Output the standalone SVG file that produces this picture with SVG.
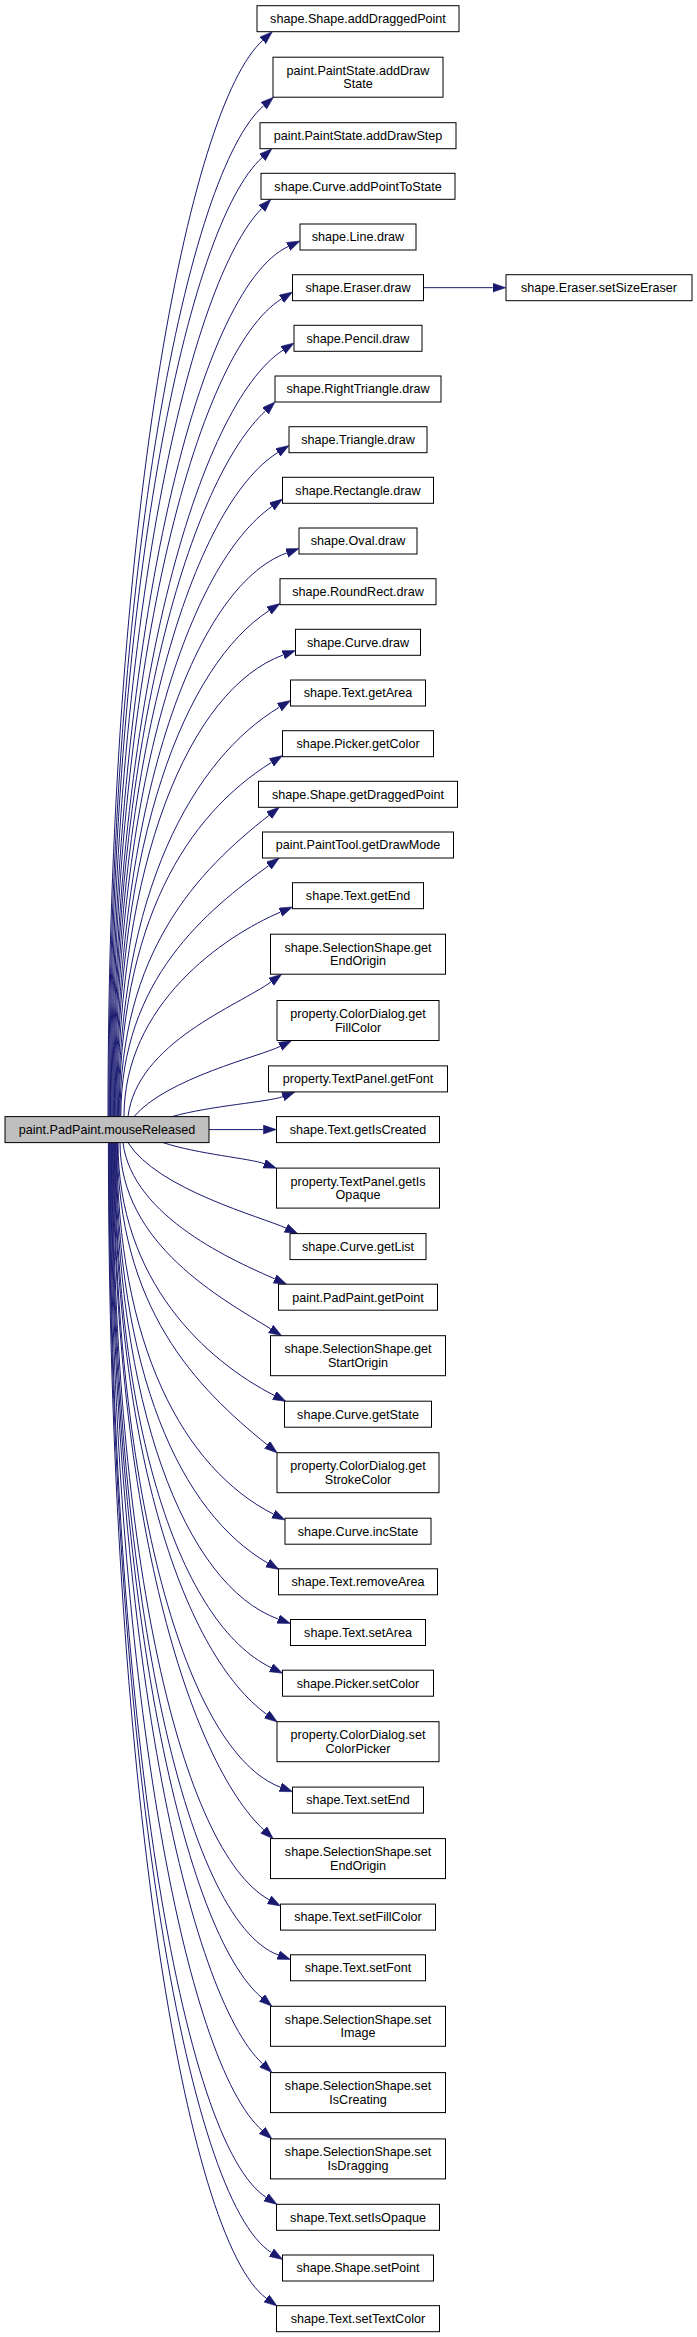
<svg xmlns="http://www.w3.org/2000/svg" width="697" height="2337" viewBox="0 0 697 2337">
<style>
.n rect{fill:#fff;stroke:#000;stroke-width:1}
.m rect{fill:#bfbfbf;stroke:#000;stroke-width:1}
text{font-family:"Liberation Sans",Arial,sans-serif;font-size:12.6px;fill:#000;text-anchor:middle}
.e path{fill:none;stroke:#191970;stroke-width:1;marker-end:url(#a)}
</style>
<defs>
<marker id="a" markerUnits="userSpaceOnUse" markerWidth="14" markerHeight="10" refX="0" refY="4.5" orient="auto" viewBox="0 0 14 10"><path d="M0,0 L13,4.5 L0,9 z" fill="#191970" stroke="#191970" stroke-width="0.5"/></marker>
</defs>
<rect width="697" height="2337" fill="#fff"/>
<g class="e" id="edges">
<path d="M108,1116.6 C108,524.7 188.4,107.3 262.7,40.4"/>
<path d="M108.8,1116.6 C108.8,560.6 188.2,171.3 263.7,105.7"/>
<path d="M109.6,1116.6 C109.6,589 188,224.3 262.3,157.4"/>
<path d="M110.4,1116.6 C110.4,617.1 191.1,279.2 261.8,208.5"/>
<path d="M111.2,1116.6 C111.2,638 197.6,288.8 288.2,246.5"/>
<path d="M112,1116.6 C112,666.9 196.7,351.9 281.5,298.9"/>
<path d="M112.8,1116.6 C112.8,695 199.2,404.6 283.1,350.1"/>
<path d="M113.6,1116.6 C113.6,728.5 192.4,479.1 265.5,410.9"/>
<path d="M114.4,1116.6 C114.4,751.3 193.2,505.4 278,452.4"/>
<path d="M115.2,1116.6 C115.2,781 190,563.9 271.9,506.5"/>
<path d="M116,1116.6 C116,806.6 192.8,587.1 286.8,552.9"/>
<path d="M116.8,1116.6 C116.8,838.3 185.2,665.1 269.1,610.6"/>
<path d="M117.6,1116.6 C117.6,862.7 189.3,689.1 283.3,654.9"/>
<path d="M118.4,1116.6 C118.4,891.4 193.7,758.7 279.4,707.2"/>
<path d="M119.2,1116.6 C119.2,921.8 186.7,815.4 271.5,762.4"/>
<path d="M120,1116.6 C120,950.9 197.9,871 269.1,815.3"/>
<path d="M120.8,1116.6 C120.8,978.6 207.9,909.9 268.8,865.6"/>
<path d="M124,1116.6 C124,1004.1 224,936.1 280.5,912.1"/>
<path d="M128,1116.6 C137,1042.5 238.5,1005.6 271.2,981.8"/>
<path d="M134,1116.6 C166.7,1078 261.3,1056 280.1,1046.4"/>
<path d="M172,1116.6 C210.8,1105.6 268.9,1102 282.9,1096.6"/>
<path d="M209,1129.6 L263.4,1129.6"/>
<path d="M163,1142.6 C198.2,1154.2 250.2,1158.4 264.3,1163.7"/>
<path d="M128,1142.6 C157.4,1189.6 262.7,1217.2 286,1228.1"/>
<path d="M123,1142.6 C132.1,1217.6 237.4,1262.3 274.8,1278.9"/>
<path d="M120,1142.6 C120,1245.1 223.3,1299.3 270.7,1328.9"/>
<path d="M118,1142.6 C118,1281.7 206.8,1361 274.4,1395.5"/>
<path d="M117.4,1142.6 C117.4,1308.8 196.7,1387.7 267.2,1444.8"/>
<path d="M116.8,1142.6 C116.8,1346.9 184.3,1468.7 273.4,1514.1"/>
<path d="M116.2,1142.6 C116.2,1373.8 181.1,1513 267.7,1563"/>
<path d="M115.6,1142.6 C115.6,1404.7 184.3,1584.9 278.3,1619.1"/>
<path d="M115,1142.6 C115,1431.4 181.1,1623.8 271,1667.6"/>
<path d="M114.4,1142.6 C114.4,1457.1 185.9,1655.6 266.8,1714.4"/>
<path d="M113.8,1142.6 C113.8,1497.1 186.8,1752.2 280.5,1787.2"/>
<path d="M113.2,1142.6 C113.2,1520.6 190.7,1761.7 263.8,1829.9"/>
<path d="M112.6,1142.6 C112.6,1559 181.6,1851.2 269.1,1899.7"/>
<path d="M112,1142.6 C112,1589.4 184.6,1920 278.3,1955"/>
<path d="M111.4,1142.6 C111.4,1613 185.4,1933.6 262,1997.9"/>
<path d="M110.8,1142.6 C110.8,1649.2 189.4,1995.5 262.5,2063.7"/>
<path d="M110.2,1142.6 C110.2,1685.9 186.7,2064.8 262.2,2130.4"/>
<path d="M109.6,1142.6 C109.6,1722.7 182.2,2142.8 266.1,2197.3"/>
<path d="M109,1142.6 C109,1753.1 186.7,2199.6 271.5,2252.6"/>
<path d="M108.4,1142.6 C108.4,1778.3 185.6,2239.6 266.5,2298.4"/>
<path d="M423.5,287.67 L492.8,287.67"/>
</g>
<g class="m" id="n_main"><rect x="5" y="1116.6" width="204" height="26"/><text x="107" y="1133.9">paint.PadPaint.mouseReleased</text></g>
<g class="n" id="n1"><rect x="257" y="5.7" width="202" height="26"/><text x="358" y="23">shape.Shape.addDraggedPoint</text></g>
<g class="n" id="n2"><rect x="273" y="57.2" width="170" height="40"/><text x="358" y="74.7">paint.PaintState.addDraw</text><text x="358" y="88.2">State</text></g>
<g class="n" id="n3"><rect x="260" y="122.7" width="196" height="26"/><text x="358" y="140">paint.PaintState.addDrawStep</text></g>
<g class="n" id="n4"><rect x="261" y="173.3" width="194" height="26"/><text x="358" y="190.6">shape.Curve.addPointToState</text></g>
<g class="n" id="n5"><rect x="300" y="224" width="116" height="26"/><text x="358" y="241.3">shape.Line.draw</text></g>
<g class="n" id="n6"><rect x="292.5" y="274.7" width="131" height="26"/><text x="358" y="292">shape.Eraser.draw</text></g>
<g class="n" id="n6b"><rect x="506" y="274.7" width="186" height="26"/><text x="599" y="292">shape.Eraser.setSizeEraser</text></g>
<g class="n" id="n7"><rect x="294" y="325.3" width="128" height="26"/><text x="358" y="342.6">shape.Pencil.draw</text></g>
<g class="n" id="n8"><rect x="275" y="376" width="166" height="26"/><text x="358" y="393.3">shape.RightTriangle.draw</text></g>
<g class="n" id="n9"><rect x="289" y="426.7" width="138" height="26"/><text x="358" y="444">shape.Triangle.draw</text></g>
<g class="n" id="n10"><rect x="282.5" y="477.3" width="151" height="26"/><text x="358" y="494.6">shape.Rectangle.draw</text></g>
<g class="n" id="n11"><rect x="299" y="528" width="118" height="26"/><text x="358" y="545.3">shape.Oval.draw</text></g>
<g class="n" id="n12"><rect x="280" y="578.7" width="156" height="26"/><text x="358" y="596">shape.RoundRect.draw</text></g>
<g class="n" id="n13"><rect x="295.5" y="629.3" width="125" height="26"/><text x="358" y="646.6">shape.Curve.draw</text></g>
<g class="n" id="n14"><rect x="290.5" y="680" width="135" height="26"/><text x="358" y="697.3">shape.Text.getArea</text></g>
<g class="n" id="n15"><rect x="282.5" y="730.7" width="151" height="26"/><text x="358" y="748">shape.Picker.getColor</text></g>
<g class="n" id="n16"><rect x="258.5" y="781.3" width="199" height="26"/><text x="358" y="798.6">shape.Shape.getDraggedPoint</text></g>
<g class="n" id="n17"><rect x="262.5" y="832" width="191" height="26"/><text x="358" y="849.3">paint.PaintTool.getDrawMode</text></g>
<g class="n" id="n18"><rect x="292.5" y="882.7" width="131" height="26"/><text x="358" y="900">shape.Text.getEnd</text></g>
<g class="n" id="n19"><rect x="270.5" y="934.2" width="175" height="40"/><text x="358" y="951.7">shape.SelectionShape.get</text><text x="358" y="965.2">EndOrigin</text></g>
<g class="n" id="n20"><rect x="277" y="1000.5" width="162" height="40"/><text x="358" y="1018">property.ColorDialog.get</text><text x="358" y="1031.5">FillColor</text></g>
<g class="n" id="n21"><rect x="268.5" y="1065.9" width="179" height="26"/><text x="358" y="1083.2">property.TextPanel.getFont</text></g>
<g class="n" id="n22"><rect x="276.5" y="1116.6" width="163" height="26"/><text x="358" y="1133.9">shape.Text.getIsCreated</text></g>
<g class="n" id="n23"><rect x="276.5" y="1168.1" width="163" height="40"/><text x="358" y="1185.6">property.TextPanel.getIs</text><text x="358" y="1199.1">Opaque</text></g>
<g class="n" id="n24"><rect x="290" y="1233.6" width="136" height="26"/><text x="358" y="1250.9">shape.Curve.getList</text></g>
<g class="n" id="n25"><rect x="278.5" y="1284.2" width="159" height="26"/><text x="358" y="1301.5">paint.PadPaint.getPoint</text></g>
<g class="n" id="n26"><rect x="270.5" y="1335.7" width="175" height="40"/><text x="358" y="1353.2">shape.SelectionShape.get</text><text x="358" y="1366.7">StartOrigin</text></g>
<g class="n" id="n27"><rect x="284.5" y="1401.2" width="147" height="26"/><text x="358" y="1418.5">shape.Curve.getState</text></g>
<g class="n" id="n28"><rect x="277" y="1452.7" width="162" height="40"/><text x="358" y="1470.2">property.ColorDialog.get</text><text x="358" y="1483.7">StrokeColor</text></g>
<g class="n" id="n29"><rect x="285" y="1518.2" width="146" height="26"/><text x="358" y="1535.5">shape.Curve.incState</text></g>
<g class="n" id="n30"><rect x="278.5" y="1568.8" width="159" height="26"/><text x="358" y="1586.1">shape.Text.removeArea</text></g>
<g class="n" id="n31"><rect x="290.5" y="1619.5" width="135" height="26"/><text x="358" y="1636.8">shape.Text.setArea</text></g>
<g class="n" id="n32"><rect x="282.5" y="1670.2" width="151" height="26"/><text x="358" y="1687.5">shape.Picker.setColor</text></g>
<g class="n" id="n33"><rect x="277" y="1721.7" width="162" height="40"/><text x="358" y="1739.2">property.ColorDialog.set</text><text x="358" y="1752.7">ColorPicker</text></g>
<g class="n" id="n34"><rect x="292.5" y="1787.1" width="131" height="26"/><text x="358" y="1804.4">shape.Text.setEnd</text></g>
<g class="n" id="n35"><rect x="270.5" y="1838.6" width="175" height="40"/><text x="358" y="1856.1">shape.SelectionShape.set</text><text x="358" y="1869.6">EndOrigin</text></g>
<g class="n" id="n36"><rect x="280.5" y="1904.1" width="155" height="26"/><text x="358" y="1921.4">shape.Text.setFillColor</text></g>
<g class="n" id="n37"><rect x="290.5" y="1954.8" width="135" height="26"/><text x="358" y="1972.1">shape.Text.setFont</text></g>
<g class="n" id="n38"><rect x="270.5" y="2006.3" width="175" height="40"/><text x="358" y="2023.8">shape.SelectionShape.set</text><text x="358" y="2037.3">Image</text></g>
<g class="n" id="n39"><rect x="270.5" y="2072.6" width="175" height="40"/><text x="358" y="2090.1">shape.SelectionShape.set</text><text x="358" y="2103.6">IsCreating</text></g>
<g class="n" id="n40"><rect x="270.5" y="2138.9" width="175" height="40"/><text x="358" y="2156.4">shape.SelectionShape.set</text><text x="358" y="2169.9">IsDragging</text></g>
<g class="n" id="n41"><rect x="276.5" y="2204.3" width="163" height="26"/><text x="358" y="2221.6">shape.Text.setIsOpaque</text></g>
<g class="n" id="n42"><rect x="282.5" y="2255" width="151" height="26"/><text x="358" y="2272.3">shape.Shape.setPoint</text></g>
<g class="n" id="n43"><rect x="276.5" y="2305.7" width="163" height="26"/><text x="358" y="2323">shape.Text.setTextColor</text></g>
</svg>
